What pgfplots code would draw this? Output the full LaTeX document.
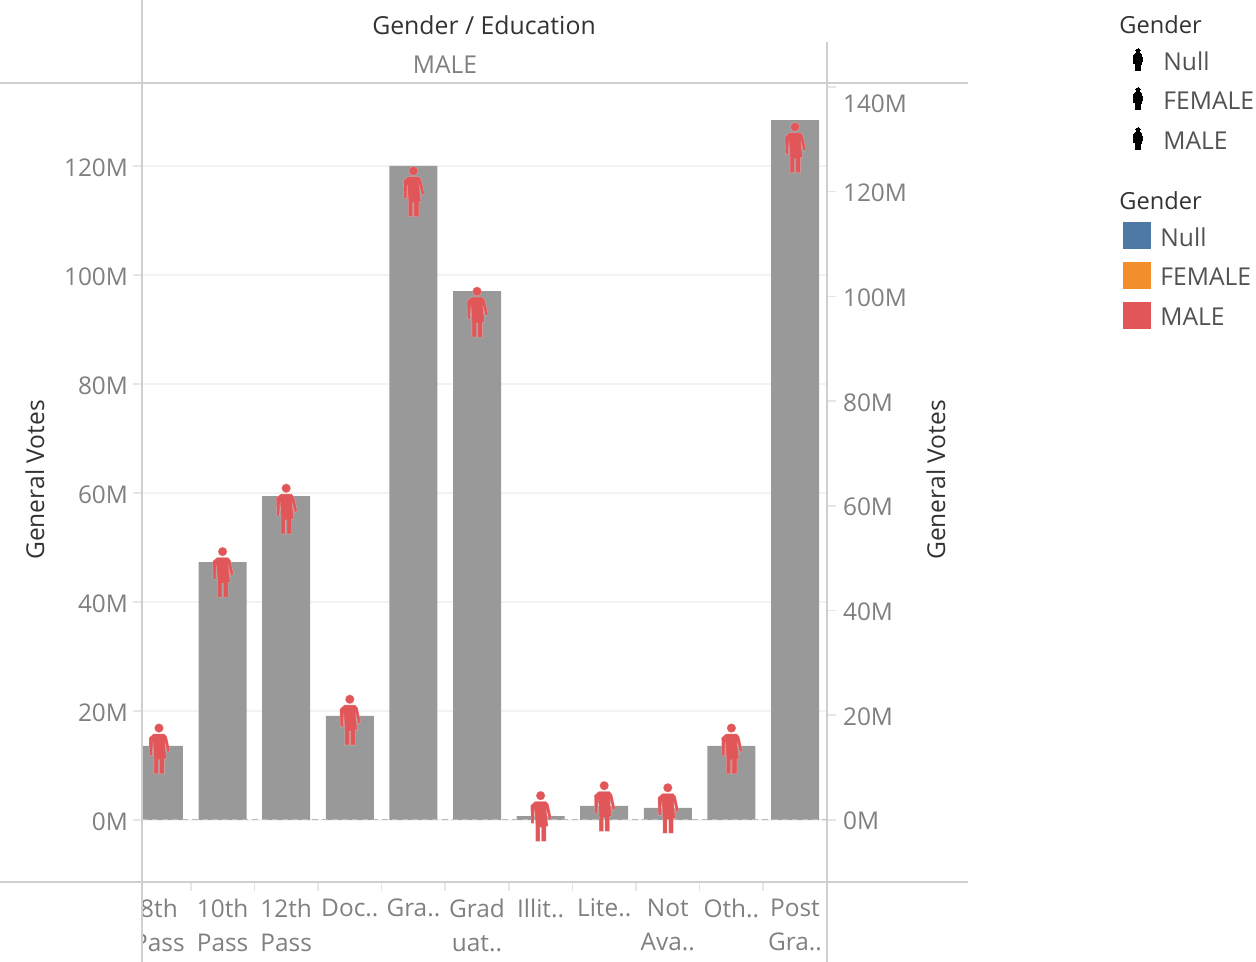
\documentclass[border=0pt]{standalone}
\usepackage{fontspec}
\setmainfont{Open Sans}
\usepackage{pgfplots}
\pgfplotsset{compat=1.18}
\definecolor{barc}{HTML}{999999}
\definecolor{malec}{HTML}{E15759}
\definecolor{femalec}{HTML}{F28E2B}
\definecolor{nullc}{HTML}{4E79A7}
\definecolor{rulec}{HTML}{CFCFCF}
\definecolor{gridc}{HTML}{F3F3F3}
\definecolor{tickc}{HTML}{E6E6E6}
\definecolor{labc}{HTML}{808080}
\definecolor{headc}{HTML}{333333}

% person glyph, drawn in reference pixels (1px = 0.5pt)
\def\pp#1#2{\pgfpoint{#1*0.5pt}{#2*0.5pt}}
\pgfdeclareplotmark{person}{%
  \pgfpathcircle{\pp{0}{20.7}}{2.3pt}
  \pgfpathmoveto{\pp{-5.5}{15}}
  \pgfpathlineto{\pp{5.5}{15}}
  \pgfpathlineto{\pp{8}{12}}
  \pgfpathlineto{\pp{11}{-2}}
  \pgfpathlineto{\pp{8.5}{-4}}
  \pgfpathlineto{\pp{5.8}{7}}
  \pgfpathlineto{\pp{7.5}{-10}}
  \pgfpathlineto{\pp{5.5}{-10}}
  \pgfpathlineto{\pp{5.5}{-25}}
  \pgfpathlineto{\pp{0.7}{-25}}
  \pgfpathlineto{\pp{0.7}{-11}}
  \pgfpathlineto{\pp{-0.7}{-11}}
  \pgfpathlineto{\pp{-0.7}{-25}}
  \pgfpathlineto{\pp{-5}{-25}}
  \pgfpathlineto{\pp{-5}{-10}}
  \pgfpathlineto{\pp{-6}{7}}
  \pgfpathlineto{\pp{-6.8}{-7}}
  \pgfpathlineto{\pp{-9.5}{-7}}
  \pgfpathlineto{\pp{-10}{11}}
  \pgfpathclose
  \pgfusepathqfillstroke
}

\pgfplotstableread{
x votes
0 13.6
1 47.3
2 59.4
3 19.1
4 120
5 97
6 0.7
7 2.6
8 2.2
9 13.6
10 128.4
}\votes

\pgfplotsset{pane/.style={
  scale only axis,
  width=342.5pt,
  height=399.5pt,
  at={(71pt,40pt)},
  anchor=south west,
  xmin=-0.267,
  xmax=10.503,
  axis line style={draw=none},
  tick style={draw=tickc,line width=0.8pt},
  major tick length=4.5pt,
  tick align=outside,
  ticklabel style={font=\fontsize{12.2}{14}\selectfont,text=labc},
}}

\begin{document}
\begin{tikzpicture}
\path[use as bounding box] (0,0) rectangle (628pt,481pt);

\begin{axis}[
  pane,
  ymin=-11.38, ymax=135.2,
  axis y line*=left,
  axis x line*=bottom,
  xtick=data,
  xticklabels={8th\\Pass,10th\\Pass,12th\\Pass,Doc..,Gra..,Grad\\uat..,Illit..,Lite..,Not\\Ava..,Oth..,Post\\Gra..},
  xtick style={draw=none},
  xticklabel style={align=center,font=\fontsize{12.2}{17}\selectfont,anchor=north,yshift=-0.3pt},
  ytick={0,20,40,60,80,100,120},
  yticklabels={0M,20M,40M,60M,80M,100M,120M},
  yticklabel style={xshift=1pt,yshift=-0.8pt},
  ymajorgrids,
  grid style={gridc,line width=0.8pt},
]
\addplot[ybar,bar width=24pt,fill=barc,draw=none,bar shift=0pt] table[x=x,y=votes] {\votes};
\addplot[densely dashed,color=black!27,line width=0.5pt,forget plot] coordinates {(-0.267,0) (10.503,0)};
\end{axis}

\begin{axis}[
  pane,
  ymin=-11.84, ymax=140.75,
  axis y line*=right,
  axis x line*=bottom,
  xtick={0.5,1.5,2.5,3.5,4.5,5.5,6.5,7.5,8.5,9.5},
  xticklabels={},
  ytick={0,20,40,60,80,100,120,140},
  yticklabels={0M,20M,40M,60M,80M,100M,120M,\raisebox{-8pt}[\height][\depth]{140M}},
  yticklabel style={yshift=-0.6pt},
  clip=false,
]
\addplot[only marks,mark=person,mark options={fill=malec,draw=white,draw opacity=0.25,line width=0.3pt}] table[x=x,y=votes] {\votes};
\end{axis}

% pane rules, header and legends in reference pixels
\begin{scope}[x=0.5pt,y=-0.5pt,shift={(0,481pt)}]
  \fill[white] (100,886) rectangle (141,962);
  \draw[rulec,line width=1.2pt] (0,83) -- (968,83);
  \draw[rulec,line width=1.2pt] (0,882) -- (968,882);
  \draw[rulec,line width=1.2pt] (142,0) -- (142,962);
  \draw[rulec,line width=1.2pt] (827,42) -- (827,962);
  \node[text=headc,font=\fontsize{12.4}{14}\selectfont] at (484,25) {Gender / Education};
  \node[text=labc,font=\fontsize{12.3}{14}\selectfont] at (445,65) {MALE};
  \node[text=headc,rotate=90,font=\fontsize{12.3}{14}\selectfont] at (35,480) {General Votes};
  \node[text=headc,rotate=90,font=\fontsize{12.3}{14}\selectfont] at (936,480) {General Votes};

  \tikzset{legtitle/.style={text=headc,anchor=west,inner sep=0pt,font=\fontsize{11.8}{14}\selectfont},
           legtext/.style={text=headc!85,anchor=west,inner sep=0pt,font=\fontsize{12.3}{14}\selectfont}}
  \node[legtitle] at (1119,25) {Gender};
  \node[legtext] at (1163,61) {Null};
  \node[legtext] at (1163,101) {FEMALE};
  \node[legtext] at (1163,141) {MALE};
  \foreach \yy in {60,99,139} {
    \begin{scope}[shift={(1138,\yy)},scale=0.44]
      \pgfsetfillcolor{black}\pgfsetstrokecolor{black}\pgfsetlinewidth{0pt}
      \pgfuseplotmark{person}
    \end{scope}
  }
  \node[legtitle] at (1119,201) {Gender};
  \fill[nullc] (1123,222) rectangle (1151,249);
  \fill[femalec] (1123,262) rectangle (1151,289);
  \fill[malec] (1123,302) rectangle (1151,329);
  \node[legtext] at (1160,237) {Null};
  \node[legtext] at (1160,277) {FEMALE};
  \node[legtext] at (1160,317) {MALE};
\end{scope}
\end{tikzpicture}
\end{document}
